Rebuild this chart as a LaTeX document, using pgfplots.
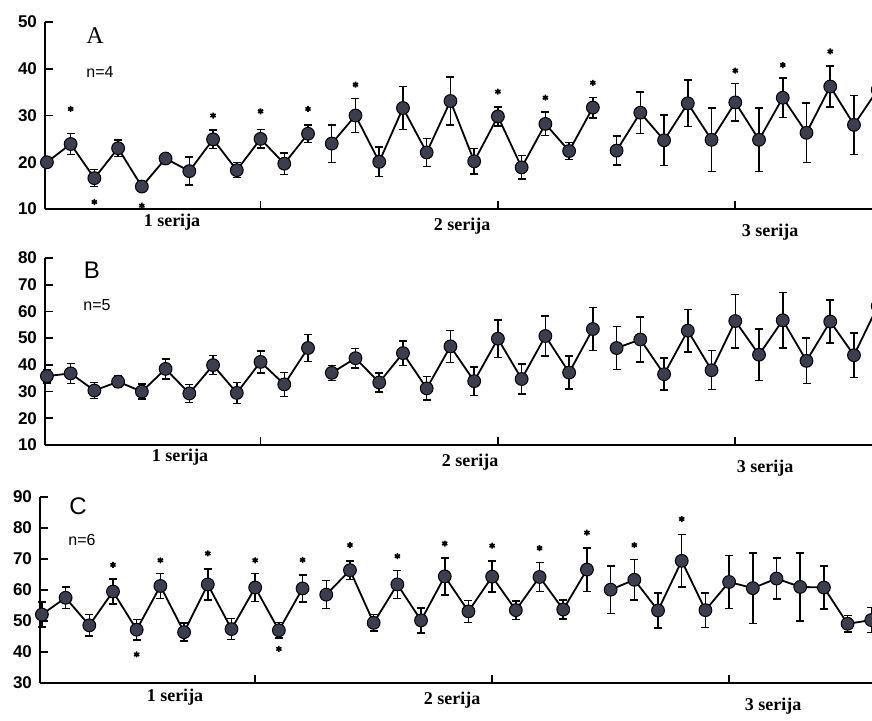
\documentclass[border=0pt]{standalone}
\usepackage{pgfplots}
\pgfplotsset{compat=1.18}
\usepackage{fontspec}
\setmainfont{Liberation Serif}
\setsansfont{Liberation Sans}
\definecolor{markfill}{RGB}{58,62,78}
\pgfplotsset{
  panel/.style={
    scale only axis,
    clip=false,
    axis x line=bottom, axis y line=left,
    axis line style={-, line width=0.9pt},
    tick align=inside,
    major tick length=4pt,
    every tick/.style={black, line width=0.8pt},
    xtick={9,19,29}, xticklabels={},
    /pgf/number format/assume math mode=true,
    yticklabel style={font=\fontsize{8.5}{9}\selectfont\sffamily\bfseries, xshift=-0.5pt},
  },
  ser/.style={
    black, line width=0.9pt,
    mark=*, mark size=3.2pt,
    mark options={fill=markfill, draw=black, line width=0.5pt},
    error bars/.cd, y dir=both, y explicit,
    error bar style={line width=0.75pt, black},
    error mark options={rotate=90, mark size=2pt, line width=0.75pt, black},
  },
  stars/.style={only marks, mark=asterisk, mark size=1.5pt, mark options={line width=0.8pt, black}},
}
\begin{document}
\begin{tikzpicture}
\clip (0,0) rectangle (436pt,360pt);
% ---------------- Panel A ----------------
\begin{axis}[panel, at={(22.5pt,255.5pt)}, anchor=south west,
  width=413.5pt, height=93.5pt,
  xmin=-0.08, xmax=34.76, ymin=10, ymax=50, ytick={10,20,30,40,50}]
\addplot[ser] coordinates {
(0,20.0) +- (0,0.6)
(1,23.9) +- (0,2.2)
(2,16.6) +- (0,1.8)
(3,23.0) +- (0,1.8)
(4,14.8) +- (0,1.0)
(5,20.8) +- (0,0.6)
(6,18.1) +- (0,3.0)
(7,24.9) +- (0,2.0)
(8,18.3) +- (0,1.6)
(9,25.0) +- (0,2.0)
(10,19.7) +- (0,2.3)
(11,26.1) +- (0,1.9)
};
\addplot[ser] coordinates {
(12,24.0) +- (0,4.0)
(13,30.0) +- (0,3.6)
(14,20.1) +- (0,3.2)
(15,31.6) +- (0,4.6)
(16,22.1) +- (0,3.0)
(17,33.1) +- (0,5.1)
(18,20.2) +- (0,2.7)
(19,29.8) +- (0,2.0)
(20,18.9) +- (0,2.5)
(21,28.2) +- (0,2.5)
(22,22.4) +- (0,1.8)
(23,31.7) +- (0,2.2)
};
\addplot[ser] coordinates {
(24,22.5) +- (0,3.1)
(25,30.6) +- (0,4.4)
(26,24.7) +- (0,5.4)
(27,32.6) +- (0,5.0)
(28,24.8) +- (0,6.8)
(29,32.8) +- (0,4.0)
(30,24.8) +- (0,6.8)
(31,33.8) +- (0,4.2)
(32,26.3) +- (0,6.4)
(33,36.2) +- (0,4.4)
(34,28.0) +- (0,6.3)
(35,35.5) +- (0,4.0)
};
\addplot[stars] coordinates {(1,31.4) (2,11.5) (4,10.7) (7,30.0) (9,30.9) (11,31.4) (13,36.6) (19,35.1) (21,33.8) (23,37.0) (29,39.6) (31,40.8) (33,43.7)};
\end{axis}
% ---------------- Panel B ----------------
\begin{axis}[panel, at={(22.5pt,137.5pt)}, anchor=south west,
  width=413.5pt, height=93.5pt,
  xmin=-0.08, xmax=34.76, ymin=10, ymax=80, ytick={10,20,...,80}]
\addplot[ser] coordinates {
(0,35.8) +- (0,2.5)
(1,36.8) +- (0,3.7)
(2,30.4) +- (0,3.0)
(3,33.7) +- (0,2.2)
(4,30.0) +- (0,2.8)
(5,38.5) +- (0,3.7)
(6,29.3) +- (0,3.4)
(7,39.9) +- (0,3.6)
(8,29.5) +- (0,3.9)
(9,41.1) +- (0,4.1)
(10,32.7) +- (0,4.5)
(11,46.3) +- (0,5.0)
};
\addplot[ser] coordinates {
(12,37.0) +- (0,2.8)
(13,42.5) +- (0,3.7)
(14,33.4) +- (0,3.6)
(15,44.4) +- (0,4.6)
(16,31.2) +- (0,4.4)
(17,46.9) +- (0,6.0)
(18,33.9) +- (0,5.3)
(19,49.8) +- (0,7.0)
(20,34.7) +- (0,5.6)
(21,50.8) +- (0,7.5)
(22,37.1) +- (0,6.2)
(23,53.4) +- (0,8.0)
};
\addplot[ser] coordinates {
(24,46.3) +- (0,8.0)
(25,49.5) +- (0,8.4)
(26,36.5) +- (0,6.0)
(27,52.8) +- (0,8.0)
(28,38.0) +- (0,7.3)
(29,56.4) +- (0,10.0)
(30,43.8) +- (0,9.7)
(31,56.7) +- (0,10.3)
(32,41.5) +- (0,8.5)
(33,56.2) +- (0,8.1)
(34,43.6) +- (0,8.4)
(35,62.0) +- (0,8.0)
};
\end{axis}
% ---------------- Panel C ----------------
\begin{axis}[panel, at={(20pt,18.5pt)}, anchor=south west,
  width=416pt, height=93pt,
  xmin=-0.08, xmax=35.03, ymin=30, ymax=90, ytick={30,40,...,90}]
\addplot[ser] coordinates {
(0,52.1) +- (0,4.0)
(1,57.5) +- (0,3.4)
(2,48.6) +- (0,3.5)
(3,59.5) +- (0,4.0)
(4,47.2) +- (0,3.3)
(5,61.3) +- (0,4.0)
(6,46.4) +- (0,2.9)
(7,61.8) +- (0,5.0)
(8,47.4) +- (0,3.4)
(9,60.8) +- (0,4.5)
(10,47.0) +- (0,2.5)
(11,60.5) +- (0,4.3)
};
\addplot[ser] coordinates {
(12,58.5) +- (0,4.5)
(13,66.4) +- (0,3.0)
(14,49.4) +- (0,2.7)
(15,61.8) +- (0,4.5)
(16,50.2) +- (0,4.0)
(17,64.4) +- (0,6.0)
(18,53.1) +- (0,3.5)
(19,64.3) +- (0,5.0)
(20,53.5) +- (0,3.0)
(21,64.2) +- (0,4.6)
(22,53.7) +- (0,3.0)
(23,66.6) +- (0,7.0)
};
\addplot[ser] coordinates {
(24,60.1) +- (0,7.6)
(25,63.3) +- (0,6.6)
(26,53.4) +- (0,5.7)
(27,69.4) +- (0,8.5)
(28,53.5) +- (0,5.6)
(29,62.6) +- (0,8.6)
(30,60.6) +- (0,11.4)
(31,63.7) +- (0,6.6)
(32,61.0) +- (0,11.0)
(33,60.8) +- (0,7.0)
(34,49.1) +- (0,2.7)
(35,50.3) +- (0,4.0)
};
\addplot[stars] coordinates {(3,68.1) (4,39.2) (5,69.6) (7,71.8) (9,69.6) (10,41.0) (11,69.7) (13,74.5) (15,70.9) (17,75.0) (19,74.3) (21,73.5) (23,78.5) (25,74.5) (27,82.9)};
\end{axis}
% ---------------- Text ----------------
\node[font=\fontsize{12}{13}\selectfont] at (47.5pt,342pt) {A};
\node[font=\fontsize{8}{9}\selectfont\sffamily] at (50pt,324pt) {n=4};
\node[font=\fontsize{12}{13}\selectfont\sffamily] at (46pt,225pt) {B};
\node[font=\fontsize{8}{9}\selectfont\sffamily] at (48.5pt,207.5pt) {n=5};
\node[font=\fontsize{12}{13}\selectfont\sffamily] at (39pt,107pt) {C};
\node[font=\fontsize{8}{9}\selectfont\sffamily] at (41pt,90pt) {n=6};
\begin{scope}[every node/.style={font=\fontsize{9}{10}\selectfont\bfseries}]
\node at (86pt,249pt) {1 serija};
\node at (231pt,247pt) {2 serija};
\node at (385pt,244pt) {3 serija};
\node at (90pt,131.5pt) {1 serija};
\node at (235pt,129pt) {2 serija};
\node at (382.5pt,126pt) {3 serija};
\node at (87.5pt,11.5pt) {1 serija};
\node at (226pt,10pt) {2 serija};
\node at (386.5pt,7pt) {3 serija};
\end{scope}
\end{tikzpicture}
\end{document}
